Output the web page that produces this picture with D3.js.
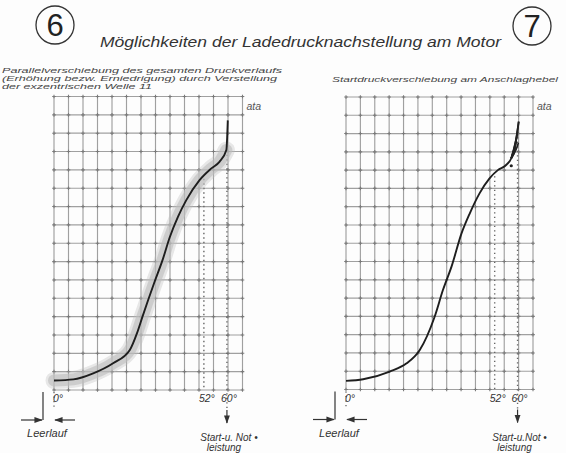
<!DOCTYPE html>
<html><head><meta charset="utf-8">
<script src="https://cdn.jsdelivr.net/npm/d3@7"></script>
<style>
html,body{margin:0;padding:0;background:#fdfdfd;}
svg{display:block;}
text{font-family:"Liberation Sans",Arial,sans-serif;font-style:italic;fill:#333;}
</style></head>
<body>
<script>
// ---- data (degrees of lever travel, grid units of pressure "ata") ----
const leftDeg  = [0, 6.7, 13.6, 20.5, 26.3, 28.8, 30.7, 34.9, 37.8, 40.1, 43.0, 45.9, 50.5, 54.6, 57.4, 59.8, 60.3];
const leftAta  = [0.52, 0.58, 0.91, 1.46, 2.18, 3.1, 4.0, 5.9, 7.15, 8.3, 9.44, 10.35, 11.44, 12.08, 12.44, 13.08, 14.7];
const rightDeg = [0, 6.0, 15.3, 21.2, 25.8, 31.0, 33.9, 36.9, 40.4, 43.3, 46.7, 50.2, 53.1, 56.0, 57.8, 59.5, 60.4];
const rightAta = [0.47, 0.56, 0.98, 1.43, 2.16, 3.98, 5.44, 6.72, 8.54, 9.64, 10.73, 11.55, 12.0, 12.28, 12.65, 13.65, 14.65];
const fanDeg   = [60.4, 60.0, 59.6, 60.3, 59.2];
const fanAta   = [14.65, 14.1, 13.6, 13.5, 13.2];
const markDeg  = [0, 52, 60];
const markLabels = ["0°", "52°", "60°"];
const gridCols = 13, gridRows = 16, degMax = 65.4;

const title = "Möglichkeiten der Ladedrucknachstellung am Motor";
const leftSub = ["Parallelverschiebung des gesamten Druckverlaufs",
                 "(Erhöhung bezw. Erniedrigung) durch Verstellung",
                 "der exzentrischen Welle 11"];
const leftSubLen = [280, 275, 150];
const rightSub = ["Startdruckverschiebung am Anschlaghebel"];

const W = 566, H = 453;
const svg = d3.select("body").append("svg").attr("width", W).attr("height", H);

const defs = svg.append("defs");
defs.append("marker").attr("id","arr").attr("viewBox","0 0 10 10").attr("refX",9).attr("refY",5)
  .attr("markerWidth",7).attr("markerHeight",7).attr("orient","auto-start-reverse")
  .append("path").attr("d","M0,1.5 L10,5 L0,8.5 Z").attr("fill","#333");

// header
function circleNum(cx, cy, txt){
  svg.append("circle").attr("cx",cx).attr("cy",cy).attr("r",19)
    .attr("fill","none").attr("stroke","#333").attr("stroke-width",1.3);
  svg.append("text").attr("x",cx).attr("y",cy+11).attr("text-anchor","middle")
    .style("font-style","normal").style("font-size","31px").style("fill","#222").text(txt);
}
circleNum(55, 25, "6");
circleNum(532, 26, "7");
svg.append("text").attr("x",100).attr("y",47).attr("textLength",401).attr("lengthAdjust","spacingAndGlyphs")
  .style("font-size","15px").style("fill","#333").text(title);

leftSub.forEach((s,i)=>{
  svg.append("text").attr("x",2).attr("y",72.5+i*8.3).attr("textLength",leftSubLen[i]).attr("lengthAdjust","spacingAndGlyphs")
    .style("font-size","7.6px").style("fill","#444").text(s);
});
svg.append("text").attr("x",332).attr("y",82).attr("textLength",226).attr("lengthAdjust","spacingAndGlyphs")
  .style("font-size","7.6px").style("fill","#444").text(rightSub[0]);

function panel(p){
  const {x0,x1,y0,y1,deg,ata,band,fan} = p;
  const g = svg.append("g");
  const gx = d3.scaleLinear().domain([0,gridCols]).range([x0,x1]);
  const gy = d3.scaleLinear().domain([0,gridRows]).range([y1,y0]);
  const x = d3.scaleLinear().domain([0,degMax]).range([x0,x1]);
  const y = d3.scaleLinear().domain([0,gridRows]).range([y1,y0]);

  // grid
  g.selectAll(".v").data(d3.range(gridCols+1)).join("line")
    .attr("x1",d=>gx(d)).attr("x2",d=>gx(d)).attr("y1",y0).attr("y2",y1)
    .attr("stroke","#a0a0a0").attr("stroke-width",1.15);
  g.selectAll(".h").data(d3.range(gridRows+1)).join("line")
    .attr("y1",d=>gy(d)).attr("y2",d=>gy(d)).attr("x1",x0).attr("x2",x1)
    .attr("stroke","#a0a0a0").attr("stroke-width",1.15);
  const pts = [];
  d3.range(gridCols+1).forEach(i=>d3.range(gridRows+1).forEach(j=>pts.push([i,j])));
  g.selectAll(".c").data(pts).join("path")
    .attr("d",d=>`M${gx(d[0])-1.8},${gy(d[1])}h3.6M${gx(d[0])},${gy(d[1])-1.8}v3.6`)
    .attr("stroke","#7a7a7a").attr("stroke-width",1.1);

  const data = deg.map((d,i)=>[d, ata[i]]);
  const line = d3.line().x(d=>x(d[0])).y(d=>y(d[1])).curve(d3.curveMonotoneX);
  const lineCR = d3.line().x(d=>x(d[0])).y(d=>y(d[1])).curve(d3.curveCatmullRom.alpha(0.5));

  // dotted guides
  const interp = dd => { for(let i=1;i<data.length;i++){ if(data[i][0]>=dd){ const a=data[i-1],b=data[i]; return a[1]+(b[1]-a[1])*(dd-a[0])/(b[0]-a[0]); } } return data[data.length-1][1]; };
  g.selectAll(".dot").data(markDeg.slice(1)).join("line")
    .attr("x1",d=>x(d)).attr("x2",d=>x(d)).attr("y1",d=>y(interp(d))+3).attr("y2",d=>d===60? y1+20 : y1)
    .attr("stroke","#666").attr("stroke-width",1.4).attr("stroke-dasharray","1.3,3.2");
  g.append("line").attr("x1",x(0)).attr("x2",x(0)).attr("y1",y1+2).attr("y2",y1+20)
    .attr("stroke","#666").attr("stroke-width",1.3).attr("stroke-dasharray","1.3,3.2");

  if(band){
    g.append("path").datum(data.slice(0,-1)).attr("d",line).attr("fill","none")
      .attr("stroke","#bdbdbd").attr("stroke-opacity",0.6).attr("stroke-width",12).attr("stroke-linecap","round");
    g.append("path").datum(data.slice(0,-1)).attr("d",line).attr("fill","none")
      .attr("stroke","#bdbdbd").attr("stroke-opacity",0.35).attr("stroke-width",17).attr("stroke-linecap","round");
  }
  g.append("path").datum(data).attr("d",line).attr("fill","none")
    .attr("stroke","#1e1e1e").attr("stroke-width",1.9);

  if(fan){
    const knee = data[data.length-3];
    g.selectAll(".fan").data(fan).join("path")
      .attr("d",d=>lineCR([knee,[ (knee[0]+d[0])/2+0.3, (knee[1]+d[1])/2 ], d]))
      .attr("fill","none").attr("stroke","#222").attr("stroke-width",1.6);
    g.append("circle").attr("cx",x(57.8)).attr("cy",y(12.24)).attr("r",1.6).attr("fill","#222");
  }

  // ata label
  g.append("text").attr("x",x1+4).attr("y",y0+13).style("font-size","10.5px").style("fill","#555").text("ata");

  // degree labels
  g.append("text").attr("x",x(0)-1).attr("y",y1+12).style("font-size","10.5px").text(markLabels[0]);
  g.append("text").attr("x",x(52)+3).attr("y",y1+12).attr("text-anchor","middle").style("font-size","10.5px").text(markLabels[1]);
  g.append("text").attr("x",x(60)+2).attr("y",y1+12).attr("text-anchor","middle").style("font-size","10.5px").text(markLabels[2]);

  // idle (Leerlauf) marker
  const lx = x0 - 11;
  g.append("line").attr("x1",lx).attr("x2",lx).attr("y1",y1+2).attr("y2",y1+30).attr("stroke","#333").attr("stroke-width",1.2);
  g.append("line").attr("x1",lx-22).attr("x2",lx-1).attr("y1",y1+30).attr("y2",y1+30)
    .attr("stroke","#333").attr("stroke-width",1.2).attr("marker-end","url(#arr)");
  g.append("line").attr("x1",x0+21).attr("x2",x0+1).attr("y1",y1+30).attr("y2",y1+30)
    .attr("stroke","#333").attr("stroke-width",1.2).attr("marker-end","url(#arr)");
  g.append("text").attr("x",lx+4).attr("y",y1+47).attr("text-anchor","middle").style("font-size","11px").text("Leerlauf");

  // Start- u. Notleistung
  g.append("line").attr("x1",x(60)).attr("x2",x(60)).attr("y1",y1+20).attr("y2",y1+33)
    .attr("stroke","#333").attr("stroke-width",1.2).attr("marker-end","url(#arr)");
  g.append("text").attr("x",x(60)+2).attr("y",y1+51).attr("text-anchor","middle").style("font-size","10px").text(p.startTxt);
  g.append("text").attr("x",x(60)-3).attr("y",y1+61).attr("text-anchor","middle").style("font-size","10px").text("leistung");
}

panel({x0:54, x1:242.5, y0:96.5, y1:390, deg:leftDeg, ata:leftAta, band:true, fan:null, startTxt:"Start-u. Not •"});
panel({x0:346, x1:533, y0:97, y1:389.5, deg:rightDeg, ata:rightAta, band:false,
       fan:fanDeg.map((d,i)=>[d,fanAta[i]]), startTxt:"Start-u.Not •"});
</script>
</body></html>
